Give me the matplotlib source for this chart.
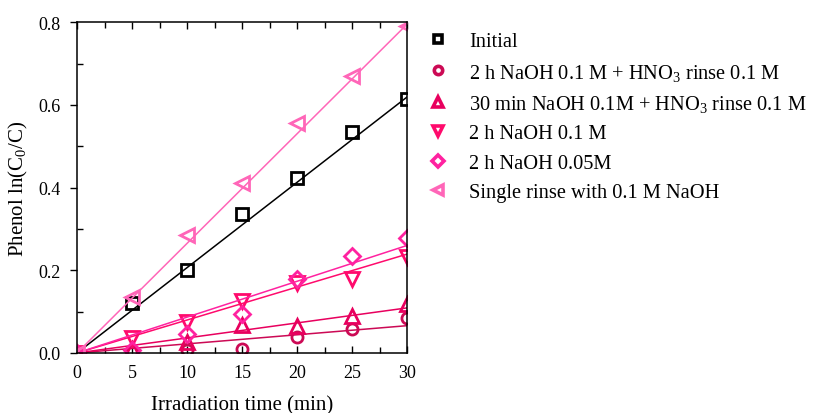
#!/usr/bin/env python3
"""Phenol degradation kinetics, ln(C0/C) vs irradiation time."""

import matplotlib as mpl
import matplotlib.pyplot as plt
from matplotlib.ticker import MultipleLocator

mpl.rcParams["font.family"] = "Liberation Serif"
mpl.rcParams["mathtext.fontset"] = "custom"
mpl.rcParams["mathtext.rm"] = "Liberation Serif"
mpl.rcParams["mathtext.it"] = "Liberation Serif:italic"

# data
time = [0, 5, 10, 15, 20, 25, 30]
initial = [0.0, 0.12, 0.20, 0.335, 0.422, 0.535, 0.615]
naoh_2h_hno3 = [0.0, 0.004, 0.006, 0.010, 0.038, 0.058, 0.085]
naoh_30min_hno3 = [0.0, 0.010, 0.026, 0.068, 0.066, 0.090, 0.118]
naoh_2h_01 = [0.0, 0.036, 0.076, 0.126, 0.170, 0.180, 0.232]
naoh_2h_005 = [0.0, 0.008, 0.046, 0.094, 0.179, 0.235, 0.278]
single_rinse = [0.0, 0.135, 0.285, 0.410, 0.555, 0.670, 0.790]

# fitted lines (value of the fit at t = 30 min)
fit_end = [0.619, 0.066, 0.109, 0.239, 0.260, 0.795]

labels = [
    "Initial",
    "2 h NaOH 0.1 M + HNO$_3$ rinse 0.1 M",
    "30 min NaOH 0.1M + HNO$_3$ rinse 0.1 M",
    "2 h NaOH 0.1 M",
    "2 h NaOH 0.05M",
    "Single rinse with 0.1 M NaOH",
]
series = [initial, naoh_2h_hno3, naoh_30min_hno3, naoh_2h_01, naoh_2h_005,
          single_rinse]
colors = ["black", "#cc0a55", "#e8005e", "#ff0a6c", "#ff22a0", "#ff66b8"]
markers = ["s", "o", "^", "v", "D", "<"]
msizes = [8, 8, 10, 10, 8, 10]

fig = plt.figure(figsize=(8.16, 4.14), dpi=100)
ax = fig.add_axes([0.0944, 0.145, 0.4044, 0.799])

handles = []
for y, fe, c, m, ms, lab in zip(series, fit_end, colors, markers, msizes,
                                labels):
    ax.plot([time[0], time[-1]], [0, fe], color=c, lw=1.1)
    h, = ax.plot(time, y, ls="none", marker=m, ms=ms, mfc="none", mec=c,
                 mew=2.0, label=lab)
    handles.append(h)

ax.set_xlim(0, 30)
ax.set_ylim(0, 0.8)
ax.xaxis.set_major_locator(MultipleLocator(5))
ax.xaxis.set_minor_locator(MultipleLocator(2.5))
ax.yaxis.set_major_locator(MultipleLocator(0.2))
ax.yaxis.set_minor_locator(MultipleLocator(0.1))
ax.yaxis.set_major_formatter(mpl.ticker.FormatStrFormatter("%.1f"))
ax.tick_params(which="both", top=True, right=False, labelsize=13)
ax.tick_params(axis="x", which="both", direction="in", pad=8)
ax.tick_params(axis="y", which="major", direction="out", pad=7)
ax.tick_params(axis="y", which="minor", direction="in")
ax.tick_params(which="major", length=5, width=1)
ax.tick_params(which="minor", length=4, width=1)
for s in ax.spines.values():
    s.set_linewidth(1.1)

ax.set_xlabel("Irradiation time (min)", fontsize=15, labelpad=10)
ax.set_ylabel("Phenol ln(C$_0$/C)", fontsize=15, labelpad=6)

leg = fig.legend(handles=handles, loc="upper left",
                 bbox_to_anchor=(0.515, 0.94), frameon=False, fontsize=14.7,
                 handlelength=0.9, handletextpad=1.1, labelspacing=0.5,
                 borderaxespad=0, markerscale=0.75)
for h in leg.legend_handles:
    h.set_markeredgewidth(2.6)

fig.savefig("out.png", dpi=100)
